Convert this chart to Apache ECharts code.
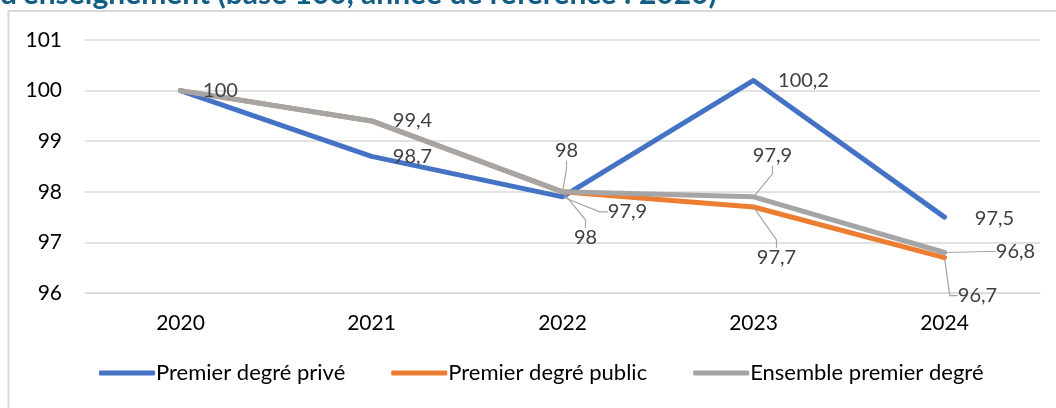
<!DOCTYPE html>
<html>
<head>
<meta charset="utf-8">
<script src="https://cdn.jsdelivr.net/npm/echarts@6/dist/echarts.min.js"></script>
<style>
html,body{margin:0;padding:0;background:#fff;}
#chart{width:1056px;height:408px;}
</style>
</head>
<body>
<div id="chart"></div>
<script>
// ---- Data ----
const categories = ['2020', '2021', '2022', '2023', '2024'];
const prive = [100, 98.7, 97.9, 100.2, 97.5];
const publicVals = [100, 99.4, 98, 97.7, 96.7];
const ensemble = [100, 99.4, 98, 97.9, 96.8];
const yTicks = [96, 97, 98, 99, 100, 101];
const seriesNames = ['Premier degré privé', 'Premier degré public', 'Ensemble premier degré'];
const titleText = "d'enseignement (base 100, année de référence : 2020)";

// ---- Style: label placement (offset of label centre from the point, leader line) ----
const labelStyle = {
  0: [null, [41, 0, false], [65, 15, true], [50, 0, false], [50, 1, false]],
  1: [null, null, [23, 46, true], [23, 51, true], [33, 38, true]],
  2: [[40, 0, false], [41, 0, false], [4, -41, true], [19, -41, true], [71, -1, true]]
};
const colors = ['#4472C4', '#ED7D31', '#A5A5A5'];
const FONT = 'Lato, "Liberation Sans", sans-serif';

function buildData(vals, si) {
  return vals.map((v, i) => {
    const st = labelStyle[si][i];
    return {
      value: v,
      label: { show: !!st },
      labelLine: { show: !!(st && st[2]) }
    };
  });
}

const seriesData = [prive, publicVals, ensemble];

const chart = echarts.init(document.getElementById('chart'), null, { renderer: 'canvas' });

const option = {
  animation: false,
  backgroundColor: '#fff',
  graphic: [
    {
      type: 'rect',
      shape: { x: 8.5, y: 11, width: 1200, height: 600 },
      style: { fill: 'none', stroke: '#D9D9D9', lineWidth: 2 },
      z: -10, silent: true
    },
    {
      type: 'text',
      left: 0, top: -21,
      style: { text: titleText, font: 'bold 30px ' + FONT, fill: '#145E86' },
      silent: true
    }
  ],
  grid: { left: 85, right: 16, top: 40, bottom: 115 },
  xAxis: {
    type: 'category',
    data: categories,
    boundaryGap: true,
    axisLine: { show: true, lineStyle: { color: '#D9D9D9', width: 1 } },
    axisTick: { show: false },
    axisLabel: { color: '#000', fontSize: 21, fontFamily: FONT, margin: 20 }
  },
  yAxis: {
    type: 'value',
    min: yTicks[0], max: yTicks[yTicks.length - 1], interval: 1,
    axisLine: { show: false },
    axisTick: { show: false },
    splitLine: { lineStyle: { color: '#D9D9D9', width: 1.5 } },
    axisLabel: { color: '#000', fontSize: 21, fontFamily: FONT, margin: 23 }
  },
  legend: {
    bottom: 19,
    left: 94,
    itemWidth: 56,
    itemHeight: 5,
    itemGap: 46,
    icon: 'roundRect',
    data: seriesNames,
    textStyle: { color: '#000', fontSize: 22, fontFamily: FONT, padding: [0, 0, 0, -4] }
  },
  series: seriesData.map((vals, si) => ({
    name: seriesNames[si],
    type: 'line',
    data: buildData(vals, si),
    z: 2 + si,
    symbol: 'circle',
    symbolSize: 2,
    showSymbol: true,
    color: colors[si],
    itemStyle: { color: colors[si] },
    lineStyle: { color: colors[si], width: 5, cap: 'round', join: 'round' },
    label: {
      show: true,
      position: 'right',
      color: '#404040',
      fontSize: 20,
      fontFamily: FONT,
      formatter: p => String(p.value).replace('.', ',')
    },
    labelLine: { show: true, length2: 8, lineStyle: { color: '#A5A5A5', width: 1.2 } },
    labelLayout: function (params) {
      const st = labelStyle[si][params.dataIndex];
      if (!st) return {};
      const r = params.rect;
      return {
        x: r.x + r.width / 2 + st[0],
        y: r.y + r.height / 2 + st[1],
        align: 'center',
        verticalAlign: 'middle'
      };
    }
  }))
};
chart.setOption(option);
</script>
</body>
</html>
